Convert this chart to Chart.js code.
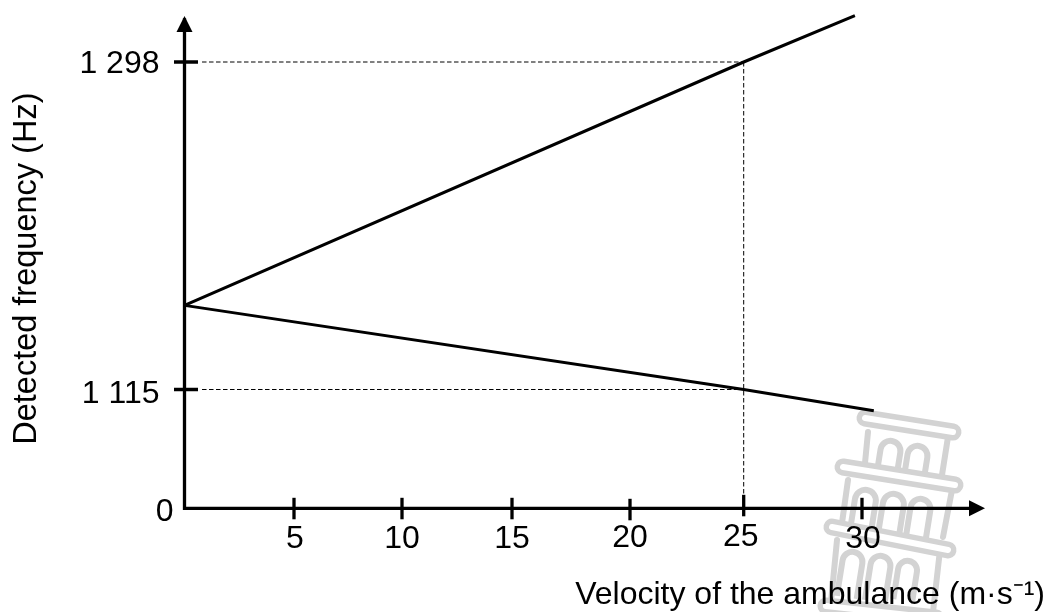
<!DOCTYPE html>
<html>
<head>
<meta charset="utf-8">
<title>Detected frequency</title>
<script src="https://cdn.jsdelivr.net/npm/chart.js@4/dist/chart.umd.js"></script>
<style>
  html, body { margin: 0; padding: 0; background: #fff; }
  canvas { display: block; }
</style>
</head>
<body>
<canvas id="dopplerChart" width="1049" height="612"></canvas>
<script>
// Values
const velocityTicks = [5, 10, 15, 20, 25, 30];
const frequencyTicks = [0, 1115, 1298];
const frequencyLabels = ['0', '1 115', '1 298'];

const approachV = [0, 25, 29.7];
const approachF = [1162, 1298, 1324];
const recedeV = [0, 25, 30.5];
const recedeF = [1162, 1115, 1103];

const guideTopV = [0.8, 25];
const guideTopF = [1298, 1298];
const guideLowV = [0.8, 25];
const guideLowF = [1115, 1115];
const guideDownV = [25, 25];
const guideDownF = [1298, 0];

// The axes in the drawing are not to scale, so both are calibrated piece by piece
const xKnotValues = [0, 5, 10, 15, 20, 25, 30, 35];
const xKnotPixels = [184.5, 294, 402, 512, 630, 743.7, 862, 980];
const yKnotValues = [0, 1050, 1115, 1298, 1330];
const yKnotPixels = [508.3, 505, 389.5, 62, 5];

class BentScale extends Chart.LinearScale {
  getPixelForValue(value) {
    const vals = this.options.knotValues, px = this.options.knotPixels;
    let i = 0;
    while (i < vals.length - 2 && value > vals[i + 1]) i++;
    return px[i] + (value - vals[i]) / (vals[i + 1] - vals[i]) * (px[i + 1] - px[i]);
  }
  // the labels in the drawing were placed by hand, so each one gets its own small shift
  _computeLabelItems(chartArea) {
    const items = super._computeLabelItems(chartArea);
    const dx = this.options.labelShiftX, dy = this.options.labelShiftY;
    items.forEach((item, i) => {
      item.options.translation[0] += dx[i];
      item.options.translation[1] += dy[i];
    });
    return items;
  }
}
BentScale.id = 'bent';
BentScale.defaults = Chart.LinearScale.defaults;
Chart.register(BentScale);

function pairs(xs, ys) {
  return xs.map((x, i) => ({ x: x, y: ys[i] }));
}

const ink = '#000';
const tickFont = { family: '"Liberation Sans", Arial, sans-serif', size: 32 };
const titleFont = { family: '"Liberation Sans", Arial, sans-serif', size: 32.5 };

function solid(xs, ys) {
  return { data: pairs(xs, ys), borderColor: ink, borderWidth: 3, pointRadius: 0, tension: 0, clip: false };
}
function dashed(xs, ys) {
  return { data: pairs(xs, ys), borderColor: ink, borderWidth: 1, borderDash: [4.5, 2.5], pointRadius: 0, tension: 0, clip: false };
}

// Grey tower watermark sitting behind the chart
const towerPlugin = {
  id: 'tower',
  beforeDraw(chart) {
    const ctx = chart.ctx;
    const grey = '#d3d3d3';
    ctx.save();
    ctx.lineCap = 'round';
    ctx.lineJoin = 'round';

    function wall(x1, y1, x2, y2) {
      ctx.strokeStyle = grey;
      ctx.lineWidth = 6;
      ctx.beginPath();
      ctx.moveTo(x1, y1);
      ctx.lineTo(x2, y2);
      ctx.stroke();
    }
    function cornice(x1, y1, x2, y2) {
      ctx.strokeStyle = grey;
      ctx.lineWidth = 17;
      ctx.beginPath();
      ctx.moveTo(x1, y1);
      ctx.lineTo(x2, y2);
      ctx.stroke();
      ctx.strokeStyle = '#fff';
      ctx.lineWidth = 6;
      ctx.stroke();
    }
    function arch(cx, top, w, h) {
      ctx.save();
      ctx.translate(cx, top);
      ctx.rotate(9 * Math.PI / 180);
      ctx.strokeStyle = grey;
      ctx.lineWidth = 6;
      ctx.lineCap = 'butt';
      ctx.beginPath();
      ctx.moveTo(-w / 2, h);
      ctx.lineTo(-w / 2, w / 2);
      ctx.arc(0, w / 2, w / 2, Math.PI, 0);
      ctx.lineTo(w / 2, h);
      ctx.stroke();
      ctx.restore();
    }

    wall(868, 432, 865, 463);
    wall(948, 437, 942, 475);
    wall(848, 480, 842, 523);
    wall(952, 490, 943, 537);
    wall(837, 540, 830, 612);
    wall(940, 550, 933, 612);

    arch(892, 441, 20, 26);
    arch(919, 446, 20, 27);

    arch(867, 490, 21, 40);
    arch(895, 494, 21, 42);
    arch(922, 499, 20, 42);

    arch(854, 552, 20, 46);
    arch(882, 556, 20, 46);
    arch(909, 561, 19, 40);

    cornice(865, 418, 953, 432);
    cornice(843, 467, 955, 485);
    cornice(832, 527, 948, 550);
    cornice(826, 606, 936, 618);
    ctx.restore();
  }
};

// Axes with arrow heads and ticks that cross the lines
const axesPlugin = {
  id: 'arrowAxes',
  afterDatasetsDraw(chart) {
    const ctx = chart.ctx;
    const xs = chart.scales.x, ys = chart.scales.y;
    const x0 = xs.getPixelForValue(0), y0 = ys.getPixelForValue(0);
    ctx.save();
    ctx.strokeStyle = ink;
    ctx.fillStyle = ink;
    ctx.lineWidth = 3.3;
    ctx.lineCap = 'square';
    ctx.beginPath();
    ctx.moveTo(x0, 20);
    ctx.lineTo(x0, y0);
    ctx.lineTo(975, y0);
    ctx.stroke();

    ctx.beginPath();
    ctx.moveTo(x0, 16);
    ctx.lineTo(x0 + 8, 32);
    ctx.lineTo(x0 - 8, 32);
    ctx.closePath();
    ctx.fill();
    ctx.beginPath();
    ctx.moveTo(985, y0);
    ctx.lineTo(969, y0 + 8);
    ctx.lineTo(969, y0 - 8);
    ctx.closePath();
    ctx.fill();

    ctx.lineCap = 'butt';
    velocityTicks.forEach(v => {
      const px = xs.getPixelForValue(v);
      const lift = v === 25 ? -3 : v === 20 ? 1 : 0;
      ctx.beginPath();
      ctx.moveTo(px, y0 - 10.5 + lift);
      ctx.lineTo(px, y0 + 11 + lift);
      ctx.stroke();
    });
    ctx.lineWidth = 3.5;
    frequencyTicks.filter(f => f > 0).forEach(f => {
      const py = ys.getPixelForValue(f);
      ctx.beginPath();
      ctx.moveTo(174, py);
      ctx.lineTo(198, py);
      ctx.stroke();
    });
    ctx.restore();
  }
};

new Chart(document.getElementById('dopplerChart'), {
  type: 'line',
  data: {
    datasets: [
      dashed(guideTopV, guideTopF),
      dashed(guideLowV, guideLowF),
      dashed(guideDownV, guideDownF),
      solid(approachV, approachF),
      solid(recedeV, recedeF)
    ]
  },
  plugins: [towerPlugin, axesPlugin],
  options: {
    responsive: false,
    animation: false,
    layout: { padding: { top: 29, right: 4, left: 0, bottom: 0 } },
    plugins: { legend: { display: false }, tooltip: { enabled: false } },
    scales: {
      x: {
        type: 'bent',
        min: 0,
        max: 38,
        knotValues: xKnotValues,
        knotPixels: xKnotPixels,
        labelShiftX: [1, 0, 0, 0, -3, 1],
        labelShiftY: [0, 0, 0, -1, -2, 0],
        grid: { display: false },
        border: { display: false },
        afterBuildTicks(scale) { scale.ticks = velocityTicks.map(v => ({ value: v })); },
        afterFit(scale) {
          scale.height = 612 - 508.3;
          scale.paddingLeft = 0;
          scale.paddingRight = 0;
        },
        ticks: {
          color: ink,
          font: tickFont,
          padding: 4,
          autoSkip: false,
          maxRotation: 0,
          callback: v => String(v)
        },
        title: {
          display: true,
          text: 'Velocity of the ambulance (m·s⁻¹)',
          align: 'end',
          color: ink,
          font: tickFont,
          padding: { top: 0, bottom: -2 }
        }
      },
      y: {
        type: 'bent',
        min: 0,
        max: 1330,
        knotValues: yKnotValues,
        knotPixels: yKnotPixels,
        labelShiftX: [0, -14, -14],
        labelShiftY: [4, 5, 2],
        grid: { display: false },
        border: { display: false },
        afterBuildTicks(scale) { scale.ticks = frequencyTicks.map(f => ({ value: f })); },
        afterFit(scale) {
          scale.width = 184.5;
          scale.paddingTop = 0;
          scale.paddingBottom = 0;
        },
        ticks: {
          color: ink,
          font: tickFont,
          padding: 3,
          autoSkip: false,
          callback: v => frequencyLabels[frequencyTicks.indexOf(v)]
        },
        title: {
          display: true,
          text: 'Detected frequency (Hz)',
          color: ink,
          font: titleFont,
          padding: 8
        }
      }
    }
  }
});
</script>
</body>
</html>
